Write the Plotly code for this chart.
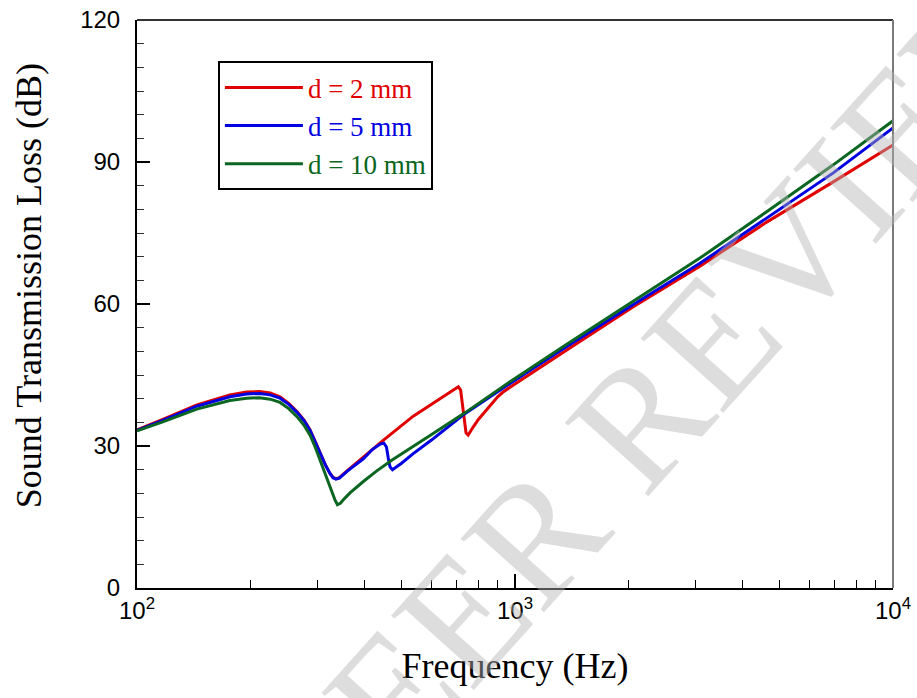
import plotly.graph_objects as go

# ---- data ----
freq_2mm = [100, 117, 144, 176, 195, 211, 225, 239, 252, 265, 277, 287, 296, 305, 315, 324, 330, 336, 343,
            360, 380, 397, 448, 538, 620, 690, 708, 718, 725, 733, 742, 752, 760, 775, 800, 830, 860, 880,
            900, 930, 970, 1371, 2056, 3085, 4632, 6951, 10000]
stl_2mm = [33.4, 35.6, 38.7, 40.8, 41.4, 41.5, 41.2, 40.4, 39.0, 37.3, 35.4, 33.4, 31.0, 28.5, 26.0, 24.2, 23.4, 23.1, 23.3,
           24.8, 26.4, 27.7, 31.2, 36.3, 39.5, 42.1, 42.5, 41.8, 39.0, 35.0, 32.8, 32.3, 33.0, 34.0, 35.6, 37.1, 38.6, 39.6,
           40.4, 41.4, 42.4, 50.3, 59.4, 68.0, 77.3, 85.8, 93.6]

freq_5mm = [100, 117, 144, 176, 195, 211, 225, 239, 252, 265, 277, 287, 296, 305, 315, 324, 330, 336, 343,
            360, 380, 397, 420, 440, 450, 457, 462, 467, 474, 485, 500, 538, 600, 730, 859, 970,
            1371, 2056, 3085, 4632, 6951, 10000]
stl_5mm = [33.3, 35.4, 38.4, 40.4, 41.0, 41.1, 40.8, 40.1, 38.8, 37.1, 35.3, 33.3, 30.9, 28.5, 26.0, 24.2, 23.3, 23.0, 23.2,
           24.7, 26.2, 27.3, 29.3, 30.4, 30.6, 29.8, 27.5, 25.6, 25.0, 25.5, 26.3, 28.4, 31.2, 36.6, 40.4, 43.2,
           51.0, 59.9, 68.6, 78.1, 87.7, 97.2]

freq_10mm = [100, 117, 144, 176, 195, 211, 225, 239, 252, 265, 277, 287, 296, 305, 315, 324, 334, 339, 345,
             352, 366, 397, 430, 472, 538, 596, 737, 859, 970, 1371, 2056, 3085, 4632, 6951, 10000]
stl_10mm = [33.2, 35.1, 37.8, 39.6, 40.1, 40.2, 39.9, 39.2, 37.9, 36.2, 34.3, 32.3, 29.8, 27.0, 24.2, 21.4, 18.6, 17.6, 17.9,
            18.7, 20.1, 22.5, 24.7, 27.0, 30.0, 32.2, 37.0, 40.6, 43.6, 51.5, 60.5, 69.7, 79.5, 89.4, 98.7]

series_names = ["d = 2 mm", "d = 5 mm", "d = 10 mm"]
series_colors = ["#e00000", "#0000e0", "#0a6620"]

x_major_ticks = [100, 1000, 10000]
x_major_labels = ["10<sup>2</sup>", "10<sup>3</sup>", "10<sup>4</sup>"]
x_minor_ticks = [200, 300, 400, 500, 600, 700, 800, 900,
                 2000, 3000, 4000, 5000, 6000, 7000, 8000, 9000]

fig = go.Figure()
for f, v, name, col in zip([freq_2mm, freq_5mm, freq_10mm],
                           [stl_2mm, stl_5mm, stl_10mm],
                           series_names, series_colors):
    fig.add_trace(go.Scatter(
        x=f, y=v, mode="lines", line=dict(color=col, width=3),
        name=f"<span style='color:{col}'>{name}</span>"))

serif = "Liberation Serif, Times New Roman, serif"
sans = "Liberation Sans, Arial, sans-serif"

fig.update_layout(
    width=917, height=698,
    margin=dict(l=137, r=24, t=20, b=110),
    paper_bgcolor="white", plot_bgcolor="white",
    showlegend=True,
    legend=dict(x=0.107, y=0.927, xanchor="left", yanchor="top",
                bgcolor="white", bordercolor="black", borderwidth=2,
                font=dict(family=serif, size=27, color="black"),
                itemwidth=78, tracegroupgap=0),
    xaxis=dict(type="log", range=[2, 4], automargin=False,
               tickmode="array", tickvals=x_major_ticks, ticktext=x_major_labels,
               showgrid=False, zeroline=False,
               showline=True, linecolor="black", linewidth=2,
               ticks="inside", ticklen=14, tickwidth=1.5, tickcolor="black",
               minor=dict(tickmode="array", tickvals=x_minor_ticks, ticks="inside",
                          ticklen=8, tickwidth=1.2, tickcolor="black"),
               tickfont=dict(family=sans, size=24, color="black"),
               title=dict(text="Frequency (Hz)", font=dict(family=serif, size=36, color="black"),
                          standoff=30)),
    yaxis=dict(range=[0, 120], dtick=30, automargin=False,
               showgrid=False, zeroline=False,
               showline=True, linecolor="black", linewidth=2,
               ticks="inside", ticklen=13, tickwidth=1.5, tickcolor="black",
               minor=dict(dtick=5, ticks="inside", ticklen=7, tickwidth=1.2, tickcolor="#333"),
               tickfont=dict(family=sans, size=24, color="black"),
               ticklabelstandoff=10),
)

# y-axis title (placed as in the reference, slightly above the axis centre)
fig.add_annotation(text="Sound Transmission Loss (dB)", xref="paper", yref="paper",
                   x=-0.143, y=0.533, xanchor="center", yanchor="middle",
                   showarrow=False, textangle=-90,
                   font=dict(family=serif, size=36, color="black"))

# top and right frame lines
fig.add_shape(type="line", xref="paper", yref="paper", x0=0, x1=1, y0=1, y1=1,
              line=dict(color="#333333", width=2))
fig.add_shape(type="line", xref="paper", yref="paper", x0=1, x1=1, y0=0, y1=1,
              line=dict(color="#7a7a7a", width=2))

# watermark
fig.add_annotation(text="PEER REVIEW", xref="paper", yref="paper", x=0.705, y=0.354,
                   xanchor="center", yanchor="middle",
                   showarrow=False, textangle=-48,
                   font=dict(family=serif, size=170, color="rgba(180,180,180,0.45)"))

fig.write_html("out.html")
